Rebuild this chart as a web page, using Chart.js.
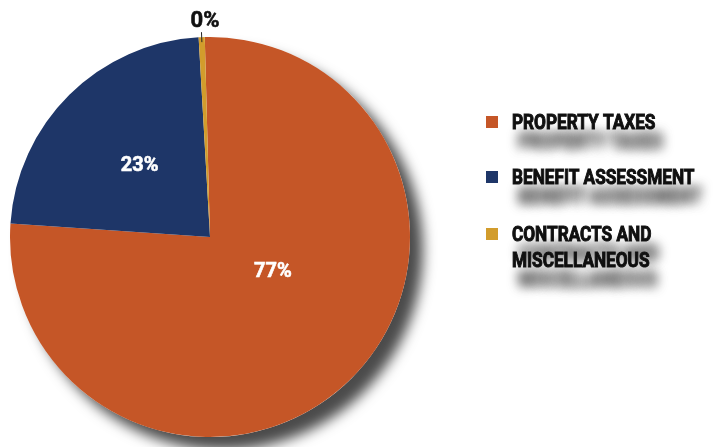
<!DOCTYPE html>
<html>
<head>
<meta charset="utf-8">
<script src="https://cdn.jsdelivr.net/npm/chart.js@4.4.1/dist/chart.umd.min.js"></script>
<style>
    html, body { margin: 0; padding: 0; background: #fff; }
</style>
</head>
<body>
<canvas id="revenueChart" width="722" height="447"></canvas>
<script>
// Revenue sources (percent of total)
const categories = [["PROPERTY TAXES"], ["BENEFIT ASSESSMENT"], ["CONTRACTS AND", "MISCELLANEOUS"]];
const shares = [76.5, 23.01, 0.49];
const sliceColors = ["#C55627", "#1E3668", "#D29C2C"];

// label placement per slice: fraction of radius, angle nudge in degrees
const labelRadius = [0.36, 0.5, 1.08];
const labelShift = [-17, 0, 0];

// soft drop shadow under the whole pie
const pieShadow = {
    id: "pieShadow",
    beforeDatasetsDraw(chart) {
        const arc = chart.getDatasetMeta(0).data[0];
        const ctx = chart.ctx;
        ctx.save();
        ctx.shadowColor = "rgba(75, 75, 75, 1)";
        ctx.shadowBlur = 13;
        ctx.shadowOffsetX = 13;
        ctx.shadowOffsetY = 13;
        ctx.fillStyle = "#fff";
        ctx.beginPath();
        ctx.arc(arc.x, arc.y, arc.outerRadius, 0, Math.PI * 2);
        ctx.fill();
        ctx.restore();
    }
};

// percentage labels on the slices
const sliceLabels = {
    id: "sliceLabels",
    afterDatasetsDraw(chart) {
        const ctx = chart.ctx;
        const meta = chart.getDatasetMeta(0);
        ctx.save();
        ctx.textAlign = "center";
        ctx.textBaseline = "middle";
        meta.data.forEach((arc, i) => {
            const mid = (arc.startAngle + arc.endAngle) / 2 + labelShift[i] * Math.PI / 180;
            const r = arc.outerRadius * labelRadius[i];
            const x = arc.x + Math.cos(mid) * r;
            const y = arc.y + Math.sin(mid) * r;
            const text = Math.round(shares[i]) + "%";
            let color = "#fff";
            ctx.font = "bold 20px Roboto";
            if (labelRadius[i] > 1) {
                // outside label with a short leader line
                ctx.strokeStyle = "#222";
                ctx.lineWidth = 1;
                ctx.beginPath();
                ctx.moveTo(arc.x + Math.cos(mid) * arc.outerRadius * 0.975, arc.y + Math.sin(mid) * arc.outerRadius * 0.975);
                ctx.lineTo(arc.x + Math.cos(mid) * arc.outerRadius * 1.025, arc.y + Math.sin(mid) * arc.outerRadius * 1.025);
                ctx.stroke();
                ctx.font = "bold 22px Roboto";
                color = "#111";
            }
            ctx.lineWidth = 0.6;
            ctx.fillStyle = color;
            ctx.strokeStyle = color;
            ctx.fillText(text, x + (labelRadius[i] > 1 ? 4 : 0), y);
            ctx.strokeText(text, x + (labelRadius[i] > 1 ? 4 : 0), y);
        });
        ctx.restore();
    }
};

// legend on the right, with blurred text shadow
const sideLegend = {
    id: "sideLegend",
    afterDraw(chart) {
        const ctx = chart.ctx;
        const left = 486, textX = 512;
        const tops = [115, 170, 227];
        const lineH = 26;
        ctx.save();
        ctx.font = "bold 20px Roboto";
        ctx.textBaseline = "alphabetic";
        categories.forEach((lines, i) => {
            ctx.shadowColor = "transparent";
            ctx.fillStyle = sliceColors[i];
            ctx.fillRect(left, tops[i] + 1, 12, 12);
            lines.forEach((line, j) => {
                ctx.save();
                ctx.shadowColor = "rgba(0, 0, 0, 0.7)";
                ctx.shadowBlur = 12;
                ctx.shadowOffsetX = 7;
                ctx.shadowOffsetY = 19;
                ctx.fillStyle = "#111";
                ctx.strokeStyle = "#111";
                ctx.lineWidth = 1;
                ctx.translate(textX, tops[i] + 14 + j * lineH);
                ctx.scale(0.86, 1);
                ctx.fillText(line, 0, 0);
                ctx.strokeText(line, 0, 0);
                ctx.restore();
            });
        });
        ctx.restore();
    }
};

new Chart(document.getElementById("revenueChart"), {
    type: "pie",
    data: {
        labels: categories.map(c => c.join(" ")),
        datasets: [{
            data: shares,
            backgroundColor: sliceColors,
            borderWidth: 0,
        }],
    },
    options: {
        responsive: false,
        animation: false,
        rotation: -1.5,
        layout: { padding: { left: 10, right: 312, top: 37, bottom: 10 } },
        plugins: {
            legend: { display: false },
            tooltip: { enabled: false },
        },
    },
    plugins: [pieShadow, sliceLabels, sideLegend],
});
</script>
</body>
</html>
